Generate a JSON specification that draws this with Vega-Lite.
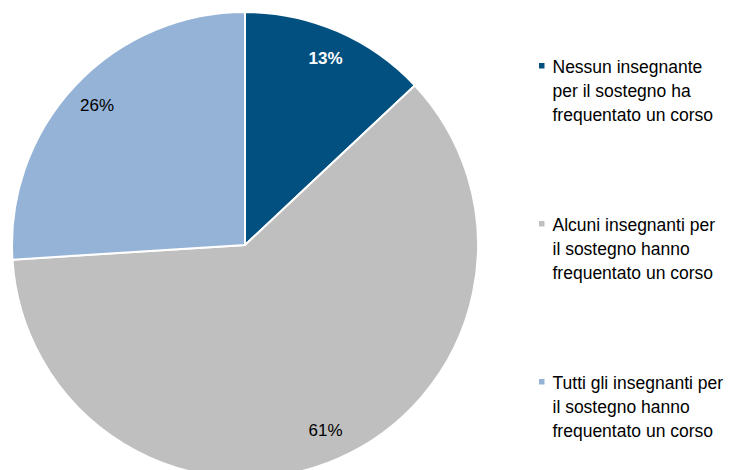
{
  "$schema": "https://vega.github.io/schema/vega-lite/v6.json",
  "width": 490,
  "height": 490,
  "padding": 0,
  "autosize": {"type": "pad"},
  "background": "white",
  "config": {"view": {"stroke": null}, "font": "Liberation Sans", "style": {"guide-label": {"lineHeight": 24, "dy": -7}}},
  "data": {
    "values": [
      {"cat": "Nessun insegnante|per il sostegno ha|frequentato un corso", "pct": 13, "label": "13%", "ord": 1},
      {"cat": "Alcuni insegnanti per|il sostegno hanno|frequentato un corso", "pct": 61, "label": "61%", "ord": 2},
      {"cat": "Tutti gli insegnanti per|il sostegno hanno|frequentato un corso", "pct": 26, "label": "26%", "ord": 3}
    ]
  },
  "encoding": {
    "theta": {"field": "pct", "type": "quantitative", "stack": true},
    "order": {"field": "ord", "type": "quantitative"}
  },
  "layer": [
    {
      "mark": {"type": "arc", "radius": 233, "stroke": "white", "strokeWidth": 2},
      "encoding": {
        "color": {
          "field": "cat",
          "type": "nominal",
          "scale": {
            "domain": [
              "Nessun insegnante|per il sostegno ha|frequentato un corso",
              "Alcuni insegnanti per|il sostegno hanno|frequentato un corso",
              "Tutti gli insegnanti per|il sostegno hanno|frequentato un corso"
            ],
            "range": ["#01507F", "#BFBFBF", "#95B3D7"]
          },
          "legend": {
            "title": null,
            "orient": "none",
            "legendX": 533,
            "legendY": 57,
            "symbolType": "square",
            "symbolSize": 30,
            "symbolStrokeWidth": 0,
            "labelFontSize": 17.5,
            "labelFont": "Liberation Sans",
            "labelColor": "black",
            "labelLimit": 300,
            "labelOffset": 2,
            "labelBaseline": "top",
            "labelExpr": "split(datum.label, '|')",
            "rowPadding": 90
          }
        }
      }
    },
    {
      "mark": {"type": "text", "radius": 203, "fontSize": 17, "fontWeight": "bold", "color": "white"},
      "encoding": {
        "text": {"condition": {"test": "datum.ord == 1", "field": "label"}, "value": ""}
      }
    },
    {
      "mark": {"type": "text", "radius": 203, "fontSize": 17, "color": "black"},
      "encoding": {
        "text": {"condition": {"test": "datum.ord != 1", "field": "label"}, "value": ""}
      }
    }
  ]
}
